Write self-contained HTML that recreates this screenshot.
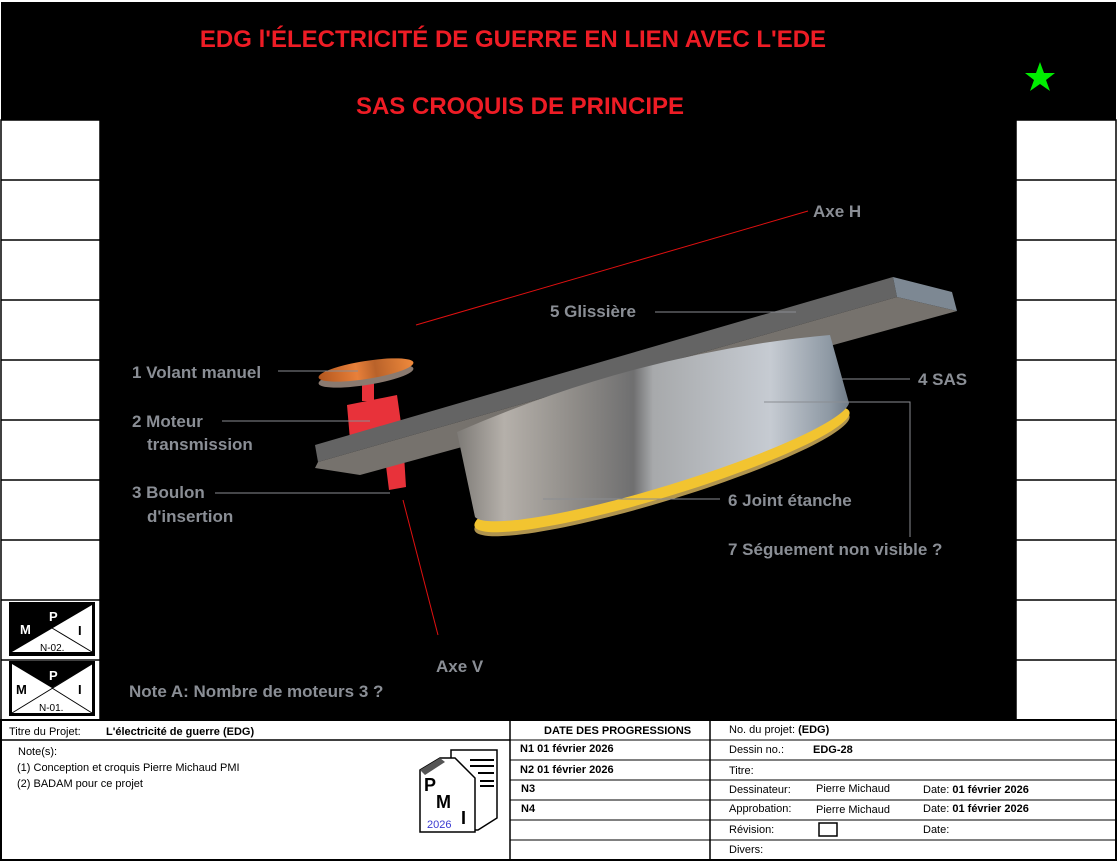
<!DOCTYPE html>
<html><head><meta charset="utf-8"><style>
html,body{margin:0;padding:0;background:#fff}
svg{display:block}
text{font-family:"Liberation Sans",sans-serif}
</style></head><body>
<svg width="1120" height="866" viewBox="0 0 1120 866" xmlns="http://www.w3.org/2000/svg">
<defs>
<linearGradient id="cyl" x1="0" y1="0" x2="1" y2="0">
<stop offset="0" stop-color="#7d7a76"/>
<stop offset="0.12" stop-color="#b5b0aa"/>
<stop offset="0.3" stop-color="#8f8c88"/>
<stop offset="0.45" stop-color="#6f6f70"/>
<stop offset="0.5" stop-color="#a7a9ab"/>
<stop offset="0.8" stop-color="#c6cbd2"/>
<stop offset="0.95" stop-color="#8e99a4"/>
<stop offset="1" stop-color="#6e7a86"/>
</linearGradient>
<linearGradient id="cop" x1="0" y1="0" x2="1" y2="0">
<stop offset="0" stop-color="#b2561e"/><stop offset="0.4" stop-color="#e8803a"/><stop offset="0.6" stop-color="#b9622a"/><stop offset="1" stop-color="#f08a3c"/>
</linearGradient>
</defs>
<rect x="0" y="0" width="1120" height="866" fill="#fff"/>
<rect x="1" y="2" width="1115" height="118" fill="#000"/>
<rect x="100" y="120" width="916" height="600" fill="#000"/>
<g stroke="#000" stroke-width="1.5" fill="none">
<rect x="1" y="120" width="99" height="600"/>
<rect x="1016" y="120" width="100" height="600"/>
<path d="M1 180H100M1 240H100M1 300H100M1 360H100M1 420H100M1 480H100M1 540H100M1 600H100M1 660H100"/>
<path d="M1016 180H1116M1016 240H1116M1016 300H1116M1016 360H1116M1016 420H1116M1016 480H1116M1016 540H1116M1016 600H1116M1016 660H1116"/>
</g>
<text x="513" y="47" font-size="24" font-weight="bold" fill="#ee1c25" text-anchor="middle">EDG l'ÉLECTRICITÉ DE GUERRE EN LIEN AVEC L'EDE</text>
<text x="520" y="114" font-size="24" font-weight="bold" fill="#ee1c25" text-anchor="middle">SAS CROQUIS DE PRINCIPE</text>
<polygon points="1040,62 1044,73 1055,73 1046,80 1050,91 1040,84 1030,91 1034,80 1025,73 1036,73" fill="#00ee00"/>
<g>
<rect x="9" y="602" width="86" height="54" fill="#000"/>
<polygon points="12,652 92,605 92,652" fill="#fff"/>
<line x1="52" y1="628" x2="92" y2="652" stroke="#000"/>
<text x="20" y="634" font-size="13" font-weight="bold" fill="#fff">M</text>
<text x="49" y="621" font-size="13" font-weight="bold" fill="#fff">P</text>
<text x="78" y="635" font-size="13" font-weight="bold" fill="#000">I</text>
<text x="40" y="651" font-size="10" fill="#000">N-02.</text>
<rect x="9" y="661" width="86" height="55" fill="#000"/>
<rect x="12" y="664" width="80" height="49" fill="#fff"/>
<polygon points="12,664 92,664 52,688" fill="#000"/>
<line x1="12" y1="713" x2="92" y2="664" stroke="#000"/>
<line x1="52" y1="688" x2="92" y2="713" stroke="#000"/>
<text x="16" y="694" font-size="13" font-weight="bold" fill="#000">M</text>
<text x="49" y="680" font-size="13" font-weight="bold" fill="#fff">P</text>
<text x="78" y="694" font-size="13" font-weight="bold" fill="#000">I</text>
<text x="39" y="711" font-size="10" fill="#000">N-01.</text>
</g>
<line x1="416" y1="325" x2="808" y2="211" stroke="#e01010" stroke-width="1"/>
<line x1="403" y1="500" x2="438" y2="635" stroke="#e01010" stroke-width="1"/>
<rect x="362" y="377" width="12" height="24" fill="#e8323a"/>
<ellipse cx="366" cy="376" rx="48" ry="9" transform="rotate(-9 366 376)" fill="#8a7a70"/>
<ellipse cx="366" cy="370" rx="48" ry="9" transform="rotate(-9 366 370)" fill="url(#cop)"/>
<polygon points="347,405 397,395 402,430 350,440" fill="#e8323a"/>
<polygon points="385,458 404,455 406,487 389,490" fill="#e8323a"/>
<polygon points="315,445 893,277 897,297 318,462" fill="#646464"/>
<polygon points="318,462 897,297 957,311 360,475 315,468" fill="#76726d"/>
<polygon points="893,277 952,292 957,311 897,297" fill="#7d8893"/>
<ellipse cx="662" cy="473" rx="196" ry="28" transform="rotate(-17 662 473)" fill="#b0944e"/>
<ellipse cx="662" cy="469" rx="196" ry="28" transform="rotate(-17 662 469)" fill="#f2c430"/>
<path d="M457,432 Q640,352 830,335 L849,403 A196 28 -17 0 1 475,517 Z" fill="url(#cyl)"/>
<g stroke="#8a8d92" stroke-width="1">
<line x1="278" y1="371" x2="358" y2="371"/>
<line x1="222" y1="421" x2="370" y2="421"/>
<line x1="215" y1="493" x2="390" y2="493"/>
<line x1="655" y1="312" x2="796" y2="312"/>
<line x1="842" y1="379" x2="910" y2="379"/>
<path d="M764 402H910V537" fill="none"/>
<line x1="543" y1="499" x2="720" y2="499"/>
</g>
<g font-size="17" font-weight="bold" fill="#8a8e95">
<text x="813" y="217">Axe H</text>
<text x="550" y="317">5 Glissière</text>
<text x="132" y="378">1 Volant manuel</text>
<text x="132" y="427">2 Moteur</text>
<text x="147" y="450">transmission</text>
<text x="918" y="385">4 SAS</text>
<text x="132" y="498">3 Boulon</text>
<text x="147" y="522">d'insertion</text>
<text x="728" y="506">6 Joint étanche</text>
<text x="728" y="555">7 Séguement non visible ?</text>
<text x="436" y="672">Axe V</text>
<text x="129" y="697">Note A: Nombre de moteurs 3 ?</text>
</g>
<g stroke="#000" fill="none">
<rect x="1" y="720" width="1115" height="140" stroke-width="2"/>
<line x1="1" y1="740" x2="510" y2="740" stroke-width="1.5"/>
<line x1="510" y1="720" x2="510" y2="860" stroke-width="1.5"/>
<line x1="710" y1="720" x2="710" y2="860" stroke-width="1.5"/>
<path d="M510 740H1116M510 760H1116M510 780H1116M510 800H1116M510 820H1116M510 840H1116" stroke-width="1"/>
<rect x="819" y="823" width="18" height="13" stroke-width="1.5"/>
</g>
<g font-size="11" fill="#000">
<text x="9" y="735">Titre du Projet:</text>
<text x="106" y="735" font-weight="bold">L'électricité de guerre (EDG)</text>
<text x="18" y="755">Note(s):</text>
<text x="17" y="771">(1) Conception et croquis Pierre Michaud PMI</text>
<text x="17" y="787">(2) BADAM pour ce projet</text>
<text x="544" y="734" font-weight="bold">DATE DES PROGRESSIONS</text>
<text x="520" y="752" font-weight="bold">N1  01 février 2026</text>
<text x="520" y="773" font-weight="bold">N2  01 février 2026</text>
<text x="521" y="792" font-weight="bold">N3</text>
<text x="521" y="812" font-weight="bold">N4</text>
<text x="729" y="733">No. du projet:  <tspan font-weight="bold">(EDG)</tspan></text>
<text x="729" y="753">Dessin no.:</text>
<text x="813" y="753" font-weight="bold">EDG-28</text>
<text x="729" y="774">Titre:</text>
<text x="729" y="793">Dessinateur:</text>
<text x="816" y="792">Pierre Michaud</text>
<text x="923" y="793">Date:  <tspan font-weight="bold">01 février 2026</tspan></text>
<text x="729" y="812">Approbation:</text>
<text x="816" y="813">Pierre Michaud</text>
<text x="923" y="812">Date:  <tspan font-weight="bold">01 février 2026</tspan></text>
<text x="729" y="833">Révision:</text>
<text x="923" y="833">Date:</text>
<text x="729" y="853">Divers:</text>
</g>
<g>
<polygon points="451,750 497,750 497,818 478,830 451,830" fill="#fff" stroke="#000" stroke-width="1.5"/>
<path d="M470 760H494M470 766H494M478 773H494M480 781H494M480 786H494" stroke="#000" stroke-width="2"/>
<polygon points="420,770 440,758 455,758 475,778 475,832 420,832" fill="#fff" stroke="#000" stroke-width="1.5"/>
<polygon points="420,770 440,758 445,762 425,775" fill="#555"/>
<text x="424" y="791" font-size="18" font-weight="bold">P</text>
<text x="436" y="808" font-size="18" font-weight="bold">M</text>
<text x="461" y="824" font-size="18" font-weight="bold">I</text>
<text x="427" y="828" font-size="11" fill="#3a3ad0">2026</text>
</g>
</svg>
</body></html>
